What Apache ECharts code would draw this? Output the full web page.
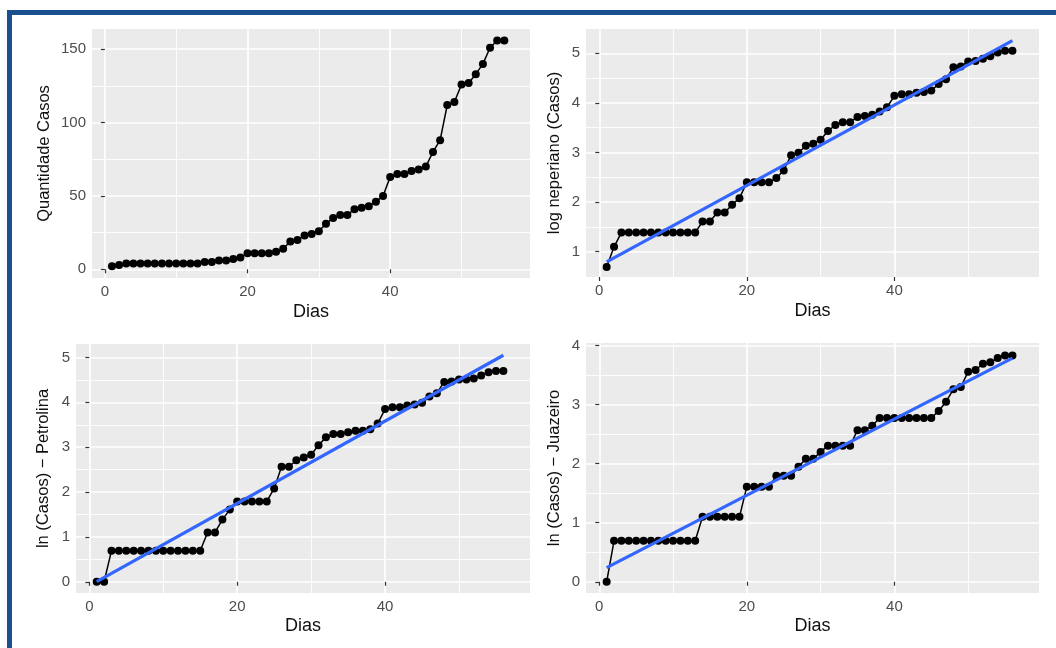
<!DOCTYPE html>
<html>
<head>
<meta charset="utf-8">
<script src="https://cdn.jsdelivr.net/npm/echarts@6/dist/echarts.min.js"></script>
<style>
html, body { margin: 0; padding: 0; background: #fff; }
#grafico { width: 1056px; height: 648px; }
</style>
</head>
<body>
<div id="grafico"></div>
<script>
// dias observados
var dias = [1,2,3,4,5,6,7,8,9,10,11,12,13,14,15,16,17,18,19,20,21,22,23,24,25,26,27,28,
            29,30,31,32,33,34,35,36,37,38,39,40,41,42,43,44,45,46,47,48,49,50,51,52,53,54,55,56];

// casos acumulados (total)
var casosTotal = [2,3,4,4,4,4,4,4,4,4,4,4,4,5,5,6,6,7,8,11,11,11,11,12,14,19,20,23,
                  24,26,31,35,37,37,41,42,43,46,50,63,65,65,67,68,70,80,88,112,114,126,127,133,140,151,156,156];

// casos acumulados - Petrolina
var casosPetrolina = [1,1,2,2,2,2,2,2,2,2,2,2,2,2,2,3,3,4,5,6,6,6,6,6,8,13,13,15,
                      16,17,21,25,27,27,28,29,29,30,34,47,49,49,51,52,54,62,67,86,87,91,91,93,99,107,110,110];

// casos acumulados - Juazeiro
var casosJuazeiro = [1,2,2,2,2,2,2,2,2,2,2,2,2,3,3,3,3,3,3,5,5,5,5,6,6,6,7,8,
                     8,9,10,10,10,10,13,13,14,16,16,16,16,16,16,16,16,18,21,26,27,35,36,40,41,44,46,46];

// marcas dos eixos
var ticksDias = [0, 20, 40];
var minorDias = [10, 30, 50];
var ticksCasos = [0, 50, 100, 150];
var minorCasos = [25, 75, 125];
var ticksLn = [1, 2, 3, 4, 5];
var minorLn = [1.5, 2.5, 3.5, 4.5];
var ticksPetrolina = [0, 1, 2, 3, 4, 5];
var minorPetrolina = [0.5, 1.5, 2.5, 3.5, 4.5];
var ticksJuazeiro = [0, 1, 2, 3, 4];
var minorJuazeiro = [0.5, 1.5, 2.5, 3.5];

var fonte = '"Liberation Sans", Arial, sans-serif';

// logaritmo neperiano dos casos
function ln(arr) { return arr.map(function (v) { return Math.log(v); }); }

// reta de minimos quadrados (como geom_smooth(method = "lm"))
function ajuste(xs, ys) {
    var n = xs.length, sx = 0, sy = 0, sxx = 0, sxy = 0;
    for (var i = 0; i < n; i++) {
        sx += xs[i]; sy += ys[i]; sxx += xs[i] * xs[i]; sxy += xs[i] * ys[i];
    }
    var b = (n * sxy - sx * sy) / (n * sxx - sx * sx);
    var a = (sy - b * sx) / n;
    var x0 = xs[0], x1 = xs[n - 1];
    return [[x0, a + b * x0], [x1, a + b * x1]];
}

function pares(xs, ys) { return xs.map(function (x, i) { return [x, ys[i]]; }); }

// paineis
var paineis = [
    { left: 92, top: 29, width: 438, height: 249, ymin: -5.93, ymax: 163.8,
      yt: ticksCasos, ym: minorCasos, nome: 'Quantidade Casos', gapY: 39, gapX: 25,
      y: casosTotal, reta: false },
    { left: 586, top: 29, width: 453, height: 248, ymin: 0.49, ymax: 5.49,
      yt: ticksLn, ym: minorLn, nome: 'log neperiano (Casos)', gapY: 23, gapX: 25,
      y: ln(casosTotal), reta: true },
    { left: 76, top: 344, width: 454, height: 249, ymin: -0.25, ymax: 5.30,
      yt: ticksPetrolina, ym: minorPetrolina, nome: 'ln (Casos) \u2212 Petrolina', gapY: 24, gapX: 24,
      y: ln(casosPetrolina), reta: true },
    { left: 586, top: 343, width: 453, height: 250, ymin: -0.19, ymax: 4.04,
      yt: ticksJuazeiro, ym: minorJuazeiro, nome: 'ln (Casos) \u2212 Juazeiro', gapY: 23, gapX: 24,
      y: ln(casosJuazeiro), reta: true }
];

var grids = [], xAxes = [], yAxes = [], series = [];

paineis.forEach(function (p, g) {
    grids.push({
        left: p.left, top: p.top, width: p.width, height: p.height,
        show: true, backgroundColor: '#EBEBEB', borderWidth: 0
    });

    var xi = xAxes.length;
    xAxes.push({
        type: 'value', gridIndex: g, min: -1.8, max: 59.6, position: 'bottom',
        axisLine: { show: false },
        axisTick: { show: true, length: 4, customValues: ticksDias, lineStyle: { color: '#333', width: 1.2 } },
        axisLabel: { customValues: ticksDias, color: '#4D4D4D', fontSize: 15, margin: 6, fontFamily: fonte },
        splitLine: { show: true, lineStyle: { color: '#fff', width: 1.7 } },
        name: 'Dias', nameLocation: 'middle', nameGap: p.gapX,
        nameTextStyle: { color: '#111', fontSize: 18, fontFamily: fonte, verticalAlign: 'top' }
    });
    xAxes.push({
        type: 'value', gridIndex: g, min: -1.8, max: 59.6, position: 'top',
        axisLine: { show: false },
        axisTick: { show: false, customValues: minorDias },
        axisLabel: { show: false },
        splitLine: { show: true, lineStyle: { color: '#fff', width: 0.9 } }
    });

    var yi = yAxes.length;
    yAxes.push({
        type: 'value', gridIndex: g, min: p.ymin, max: p.ymax, position: 'left',
        axisLine: { show: false },
        axisTick: { show: true, length: 4, customValues: p.yt, lineStyle: { color: '#333', width: 1.2 } },
        axisLabel: { customValues: p.yt, color: '#4D4D4D', fontSize: 15, margin: 6, fontFamily: fonte },
        splitLine: { show: true, lineStyle: { color: '#fff', width: 1.7 } },
        name: p.nome, nameLocation: 'middle', nameGap: p.gapY,
        nameTextStyle: { color: '#111', fontSize: 16.5, fontFamily: fonte }
    });
    yAxes.push({
        type: 'value', gridIndex: g, min: p.ymin, max: p.ymax, position: 'right',
        axisLine: { show: false },
        axisTick: { show: false, customValues: p.ym },
        axisLabel: { show: false },
        splitLine: { show: true, lineStyle: { color: '#fff', width: 0.9 } }
    });

    series.push({
        type: 'line', xAxisIndex: xi, yAxisIndex: yi,
        data: pares(dias, p.y),
        symbol: 'circle', symbolSize: 8, showSymbol: true,
        itemStyle: { color: '#000' },
        lineStyle: { color: '#000', width: 1.5 },
        z: 3, silent: true
    });

    if (p.reta) {
        series.push({
            type: 'line', xAxisIndex: xi, yAxisIndex: yi,
            data: ajuste(dias, p.y),
            symbol: 'none',
            lineStyle: { color: '#3366FF', width: 3.2 },
            z: 4, silent: true
        });
    }
});

var chart = echarts.init(document.getElementById('grafico'));
chart.setOption({
    animation: false,
    backgroundColor: '#fff',
    grid: grids,
    xAxis: xAxes,
    yAxis: yAxes,
    series: series,
    graphic: [
        { type: 'rect', shape: { x: 7, y: 10, width: 1049, height: 5 }, style: { fill: '#1C4F8D' }, silent: true },
        { type: 'rect', shape: { x: 7, y: 10, width: 5, height: 638 }, style: { fill: '#1C4F8D' }, silent: true }
    ]
});
</script>
</body>
</html>
